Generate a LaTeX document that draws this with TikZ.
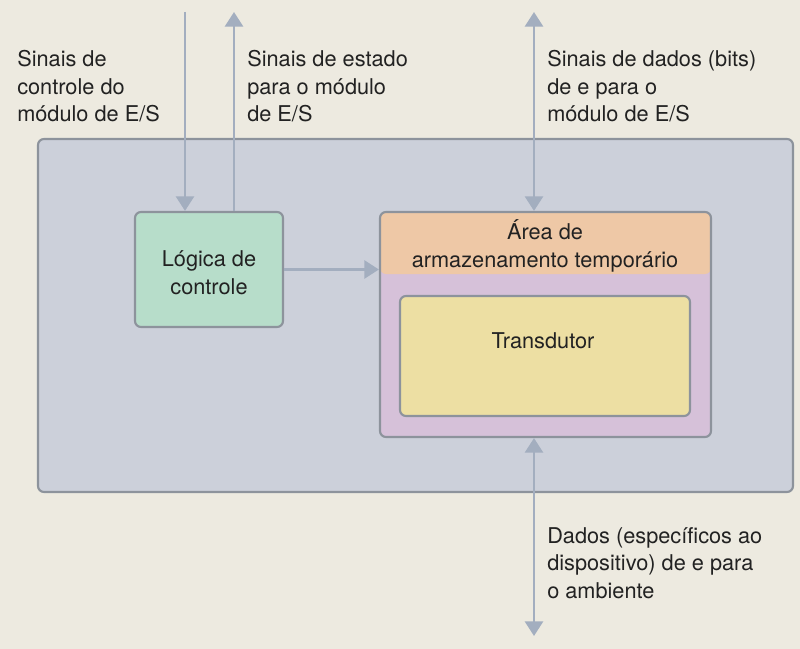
\documentclass[tikz,border=0pt]{standalone}
\usepackage{fontspec}
\setmainfont{TeX Gyre Heros}
\usetikzlibrary{arrows.meta}
\definecolor{bgc}{HTML}{EDEAE0}
\definecolor{outerc}{HTML}{CCD0DA}
\definecolor{edgec}{HTML}{8D939C}
\definecolor{greenc}{HTML}{B7DDCA}
\definecolor{orangec}{HTML}{EEC8A6}
\definecolor{purplec}{HTML}{D6C1D9}
\definecolor{yellowc}{HTML}{EDDFA3}
\definecolor{arrc}{HTML}{A3AEBF}
\definecolor{txtc}{HTML}{222222}
\begin{document}
\begin{tikzpicture}[x=0.75pt,y=-0.75pt,
  box/.style={draw=edgec, line width=1.6pt, rounded corners=4.5pt, inner sep=0pt},
  lbl/.style={font=\fontsize{16.3}{20.8}\selectfont, align=left, inner sep=0pt, anchor=north west, text=txtc},
  ctr/.style={font=\fontsize{16.3}{20.8}\selectfont, align=center, inner sep=0pt, text=txtc},
  tip/.tip={Triangle[width=13.5pt,length=11pt]},
  conn/.style={draw=arrc, line width=2.2pt, -tip},
  bconn/.style={draw=arrc, line width=2.2pt, tip-tip}
]
\fill[bgc] (0,0) rectangle (800,649);
\useasboundingbox (0,0) rectangle (800,649);

\node[box, fill=outerc, minimum width=566.25pt, minimum height=264.75pt] (outer) at (415.5,315.5) {};
\node[box, fill=greenc, minimum width=111pt, minimum height=86.25pt] (logic) at (209,269.5) {};
\node[ctr] (logict) at (209,273) {Lógica de\\controle};

\node[box, fill=purplec, minimum width=248.25pt, minimum height=168.75pt,
  path picture={\fill[orangec] (path picture bounding box.north west) rectangle ([yshift=-46.5pt]path picture bounding box.north east);}] (buf) at (545.5,324.5) {};
\node[ctr] (buft) at (545,246) {Área de\\armazenamento temporário};

\node[box, fill=yellowc, minimum width=217.5pt, minimum height=90pt] (trans) at (545,356) {};
\node[ctr] (transt) at (543,341) {Transdutor};

\coordinate (t1) at (185,12);
\coordinate (t2) at (234,12);
\coordinate (t3) at (534,12);
\coordinate (b3) at (534,636);

\draw[conn] (t1) -- (t1 |- logic.north);
\draw[conn] (t2 |- logic.north) -- (t2);
\draw[conn] (logic.east) -- (logic.east -| buf.west);
\draw[bconn] (t3) -- (t3 |- buf.north);
\draw[bconn] (b3 |- buf.south) -- (b3);

\node[lbl] (l1) at (17,50) {Sinais de\\controle do\\módulo de E/S};
\node[lbl] (l2) at (247,50) {Sinais de estado\\para o módulo\\de E/S};
\node[lbl] (l3) at (547,50) {Sinais de dados (bits)\\de e para o\\módulo de E/S};
\node[lbl] (l4) at (547,527) {Dados (específicos ao\\dispositivo) de e para\\o ambiente};
\end{tikzpicture}
\end{document}
